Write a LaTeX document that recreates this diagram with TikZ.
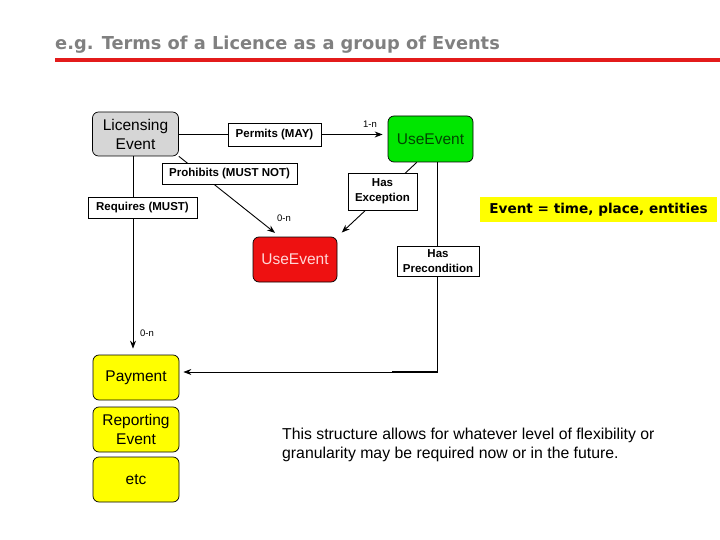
\documentclass[tikz,border=0pt]{standalone}
\usepackage{fontspec}
\setmainfont{Liberation Sans}
\newfontfamily\verd{DejaVu Sans}
\usetikzlibrary{arrows.meta,calc}
\definecolor{ttlgray}{HTML}{808080}
\definecolor{ttlred}{HTML}{E31B1B}
\definecolor{boxgray}{HTML}{D6D6D6}
\definecolor{evgreen}{HTML}{00E600}
\definecolor{evred}{HTML}{EE1111}
\definecolor{evyellow}{HTML}{FFFF00}
\tikzset{
  evbox/.style={draw, rounded corners=6pt, line width=0.7pt, align=center, inner sep=0pt,
    font=\fontsize{15.5}{19}\selectfont},
  lbl/.style={draw, fill=white, line width=0.7pt, align=center, inner sep=0pt,
    font=\bfseries\fontsize{11.5}{15}\selectfont},
  conn/.style={line width=0.9pt},
  arr/.style={conn, -{Stealth[length=8pt,width=6pt]}},
  card/.style={font=\fontsize{9.5}{10}\selectfont, inner sep=0pt}
}
\begin{document}
\begin{tikzpicture}[x=1pt,y=-1pt]
\useasboundingbox (0,0) rectangle (720,540);
% title
\node[anchor=base west, inner sep=0pt, text=ttlgray, font=\verd\bfseries\fontsize{17.8}{20}\selectfont] (title) at (55,50) {e.g. Terms of a Licence as a group of Events};
\fill[ttlred] (55,58) rectangle (720,62);
% event nodes
\node[evbox, fill=boxgray, minimum width=86pt, minimum height=44pt] (le) at (135.5,134) {Licensing\\Event};
\node[evbox, fill=evgreen, text={rgb,255:red,0;green,70;blue,0}, minimum width=85pt, minimum height=46pt] (ug) at (430.5,139) {UseEvent};
\node[evbox, fill=evred, text={rgb,255:red,255;green,215;blue,215}, minimum width=84pt, minimum height=45pt] (ur) at (295,259.5) {UseEvent};
\node[evbox, fill=evyellow, minimum width=86pt, minimum height=45pt] (pay) at (136,377.5) {Payment};
\node[evbox, fill=evyellow, minimum width=86pt, minimum height=45pt] (rep) at (136,429.5) {Reporting\\Event};
\node[evbox, fill=evyellow, minimum width=86pt, minimum height=45pt] (etc) at (136,479.5) {etc};
% connectors
\coordinate (pt) at ($(ur.north west)!0.32!(ur.north east)$);
\draw[arr, shorten >=6pt] (le.south east) -- (pt);
\coordinate (us) at ($(ug.south west)!0.34!(ug.south east)$);
\draw[arr, shorten >=6pt] (us) -- (ur.north east);
\draw[arr, shorten >=6pt] ([xshift=-2.5pt]le.south) -- ([xshift=-3pt]pay.north);
\coordinate (cp) at (437,372);
\draw[arr, shorten >=4pt] (ug.south -| cp) -- (cp) -- (pay.east |- cp);
\draw[line width=2pt] (392,372) -- (437,372);
% relation labels
\node[lbl, minimum width=93pt, minimum height=23pt] (perm) at (274.5,134.5) {Permits (MAY)};
\draw[conn] (le.east |- perm.west) -- (perm.west);
\draw[arr, shorten >=5pt] (perm.east) -- (ug.west |- perm.east);
\node[lbl, minimum width=135pt, minimum height=21pt] (proh) at (229.5,173.5) {Prohibits (MUST NOT)};
\node[lbl, minimum width=109pt, minimum height=21pt] (req) at (142.5,207.5) {Requires (MUST)};
\node[lbl, minimum width=69pt, minimum height=37pt] (hexc) at (382.5,191.5) {Has\\Exception};
\node[lbl, minimum width=82pt, minimum height=30pt] (hpre) at (438,261) {Has\\Precondition};
% cardinalities
\node[card] (c1) at (370,124) {1-n};
\node[card] (c2) at (284,218) {0-n};
\node[card] (c3) at (147,333) {0-n};
% note boxes
\node[fill=evyellow, minimum width=237pt, minimum height=25pt, inner sep=0pt, font=\verd\bfseries\fontsize{13.6}{16}\selectfont] (evt) at (598.5,209.5) {Event = time, place, entities};
\node[anchor=north west, align=left, inner sep=0pt, font=\fontsize{15.8}{19}\selectfont] (note) at (282,428) {This structure allows for whatever level of flexibility or\\granularity may be required now or in the future.};
\end{tikzpicture}
\end{document}
